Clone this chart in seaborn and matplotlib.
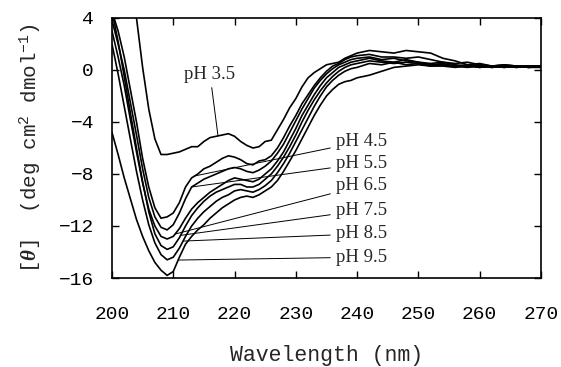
import numpy as np
import pandas as pd
import matplotlib
matplotlib.use("Agg")
import matplotlib.pyplot as plt
import seaborn as sns

# wavelength grid (nm)
wl = list(range(200, 241)) + list(range(242, 271, 2))

# mean residue ellipticity (x1000 deg cm2 dmol-1)
ph35 = [12.0, 10.0, 8.5, 6.5, 4.0, 0.2, -3.0, -5.3, -6.5, -6.5, -6.4, -6.3, -6.1, -5.9, -5.9, -5.5,
        -5.2, -5.1, -5.0, -4.9, -5.1, -5.5, -5.8, -6.0, -5.9, -5.5, -5.4, -4.6, -3.8, -2.9, -2.2,
        -1.3, -0.6, -0.2, 0.1, 0.4, 0.5, 0.6, 0.9, 1.1, 1.3,
        1.5, 1.4, 1.3, 1.5, 1.4, 1.3, 0.9, 0.7, 0.4, 0.5, 0.3, 0.4, 0.3, 0.3, 0.3]
ph45 = [4.5, 3.0, 1.0, -1.5, -4.0, -6.8, -9.0, -10.6, -11.4, -11.3, -11.0, -10.2, -9.0, -8.3, -8.0, -7.6,
        -7.4, -7.1, -6.8, -6.6, -6.7, -6.9, -7.2, -7.3, -7.0, -6.9, -6.6, -6.0, -5.2, -4.3, -3.5,
        -2.6, -1.9, -1.2, -0.6, -0.1, 0.3, 0.5, 0.8, 1.0, 1.1,
        1.2, 1.0, 1.0, 0.9, 1.0, 0.8, 0.6, 0.5, 0.6, 0.4, 0.3, 0.4, 0.3, 0.2, 0.3]
ph55 = [3.8, 2.0, 0.0, -2.5, -5.0, -7.6, -9.8, -11.3, -12.1, -12.3, -11.9, -11.0, -9.9, -9.0, -8.7, -8.4,
        -8.2, -8.0, -7.8, -7.6, -7.5, -7.6, -7.8, -7.9, -7.7, -7.4, -7.0, -6.4, -5.7, -4.8, -3.9,
        -3.0, -2.2, -1.4, -0.8, -0.3, 0.1, 0.4, 0.6, 0.8, 0.9,
        1.0, 0.8, 0.9, 0.7, 0.6, 0.5, 0.6, 0.4, 0.3, 0.4, 0.3, 0.2, 0.3, 0.3, 0.2]
ph65 = [3.0, 1.0, -1.2, -3.8, -6.3, -8.7, -10.7, -12.0, -12.8, -13.0, -12.8, -12.2, -11.4, -10.7, -10.2, -9.8,
        -9.4, -9.1, -8.8, -8.5, -8.3, -8.4, -8.5, -8.6, -8.4, -8.0, -7.6, -7.0, -6.3, -5.4, -4.5,
        -3.5, -2.7, -1.9, -1.2, -0.6, -0.2, 0.2, 0.4, 0.6, 0.7,
        0.9, 0.7, 0.6, 0.8, 0.6, 0.4, 0.5, 0.3, 0.4, 0.2, 0.3, 0.3, 0.2, 0.3, 0.3]
ph75 = [4.5, 2.2, -0.5, -3.3, -6.0, -8.6, -10.9, -12.6, -13.5, -13.8, -13.6, -12.9, -12.0, -11.2, -10.6, -10.1,
        -9.7, -9.4, -9.2, -9.0, -8.8, -8.8, -9.0, -9.0, -8.8, -8.4, -8.0, -7.4, -6.7, -5.9, -5.0,
        -4.0, -3.1, -2.3, -1.6, -1.0, -0.5, -0.1, 0.2, 0.4, 0.5,
        0.7, 0.6, 0.5, 0.6, 0.5, 0.4, 0.4, 0.3, 0.3, 0.2, 0.3, 0.2, 0.3, 0.2, 0.3]
ph85 = [2.0, -0.3, -2.8, -5.3, -7.8, -10.0, -11.9, -13.3, -14.2, -14.6, -14.4, -13.7, -12.8, -12.0, -11.4, -10.9,
        -10.5, -10.1, -9.8, -9.6, -9.3, -9.2, -9.3, -9.4, -9.2, -8.9, -8.5, -7.9, -7.2, -6.4, -5.5,
        -4.6, -3.7, -2.8, -2.0, -1.3, -0.8, -0.4, -0.1, 0.1, 0.2,
        0.5, 0.4, 0.6, 0.4, 0.5, 0.3, 0.4, 0.3, 0.2, 0.3, 0.2, 0.3, 0.3, 0.2, 0.2]
ph95 = [-4.8, -6.5, -8.3, -9.9, -11.5, -12.8, -13.9, -14.8, -15.4, -15.8, -15.5, -14.4, -13.4, -12.8, -12.3, -11.9,
        -11.4, -11.0, -10.6, -10.3, -10.0, -9.8, -9.7, -9.8, -9.6, -9.3, -9.0, -8.5, -7.8, -7.0, -6.2,
        -5.3, -4.4, -3.5, -2.7, -2.0, -1.5, -1.1, -0.9, -0.8, -0.6,
        -0.4, -0.1, 0.2, 0.3, 0.4, 0.3, 0.3, 0.2, 0.3, 0.3, 0.2, 0.3, 0.2, 0.3, 0.3]

ph_labels = ["pH 3.5", "pH 4.5", "pH 5.5", "pH 6.5", "pH 7.5", "pH 8.5", "pH 9.5"]
series = [ph35, ph45, ph55, ph65, ph75, ph85, ph95]

# label anchor (wavelength, theta) and the wavelength the leader points at
label_pos = [(216.0, -1.0), (236.6, -5.5), (236.6, -7.2), (236.6, -8.9),
             (236.6, -10.8), (236.6, -12.6), (236.6, -14.4)]
leader_wl = [217.3, 213.5, 213.0, 210.3, 211.2, 211.6, 210.8]

df = pd.concat([pd.DataFrame({"wl": wl, "theta": s, "pH": lab})
                for s, lab in zip(series, ph_labels)])

sns.set_style("ticks")
plt.rcParams["font.family"] = ["Liberation Mono", "DejaVu Sans"]
plt.rcParams["mathtext.fontset"] = "custom"
plt.rcParams["mathtext.rm"] = "Liberation Mono"
plt.rcParams["mathtext.it"] = "Liberation Serif:italic"
plt.rcParams["mathtext.bf"] = "Liberation Serif:bold"
plt.rcParams["mathtext.bfit"] = "Liberation Serif:italic:bold"

fig = plt.figure(figsize=(5.61, 3.67), dpi=100)
ax = fig.add_axes([0.1996, 0.2425, 0.7647, 0.7085])

sns.lineplot(data=df, x="wl", y="theta", units="pH", estimator=None,
             color="black", lw=1.2, ax=ax, legend=False)

ax.set_xlim(200, 270)
ax.set_ylim(-16, 4)
ax.set_xticks(range(200, 271, 10))
ax.set_yticks(range(-16, 5, 4))
ax.tick_params(direction="in", length=5, width=1, top=True, right=True,
               labelsize=14, colors="black")
ax.tick_params(axis="x", pad=20)
ax.tick_params(axis="y", pad=13)
for sp in ax.spines.values():
    sp.set_linewidth(1.2)
    sp.set_color("black")

ax.set_xlabel("Wavelength (nm)", fontsize=15.5, labelpad=16)
ax.set_ylabel(r"[$\boldsymbol{\theta}$]  (deg cm$^2$ dmol$^{-1}$)", fontsize=15, labelpad=11)

for s, lab, (tx, ty), lw_ in zip(series, ph_labels, label_pos, leader_wl):
    py = np.interp(lw_, wl, s)
    if lab == "pH 3.5":
        ax.annotate(lab, xy=(lw_, py), xytext=(tx, ty), ha="center", va="bottom",
                    family="Liberation Serif", fontsize=13.5,
                    arrowprops=dict(arrowstyle="-", lw=0.7, color="black", shrinkA=1, shrinkB=0))
    else:
        ax.annotate(lab, xy=(lw_, py), xytext=(tx, ty), ha="left", va="center",
                    family="Liberation Serif", fontsize=13.5,
                    arrowprops=dict(arrowstyle="-", lw=0.7, color="black", shrinkA=2, shrinkB=0))

fig.savefig("out.png", dpi=100)
